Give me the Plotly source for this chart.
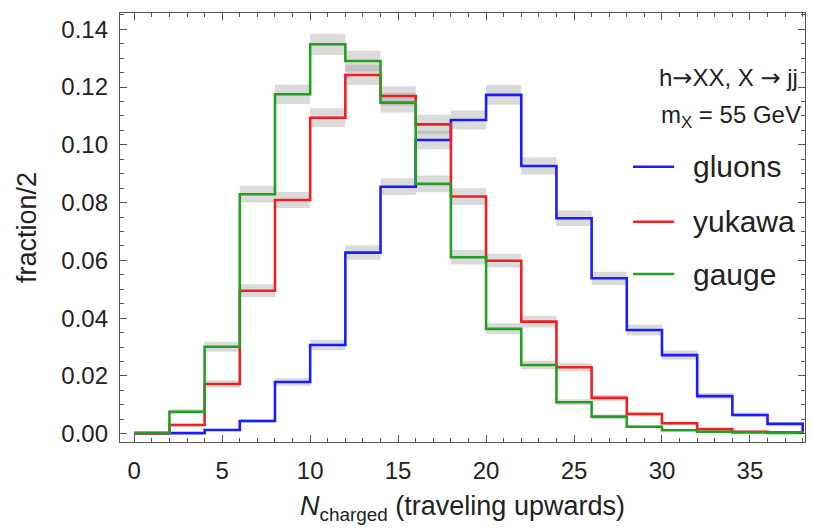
import plotly.graph_objects as go

# bin edges (width 2) for N_charged
bin_edges = [0, 2, 4, 6, 8, 10, 12, 14, 16, 18, 20, 22, 24, 26, 28, 30, 32, 34, 36, 38]

gluons = [0.0001, 0.0002, 0.0013, 0.0044, 0.0179, 0.0307, 0.0627, 0.0855, 0.1017, 0.1086,
          0.1173, 0.0927, 0.0746, 0.0538, 0.0359, 0.0272, 0.0130, 0.0065, 0.0034]
gluons_err = [0.0001, 0.0001, 0.0004, 0.0007, 0.0013, 0.0018, 0.0025, 0.0029, 0.0032, 0.0033,
              0.0034, 0.0030, 0.0027, 0.0023, 0.0019, 0.0016, 0.0011, 0.0008, 0.0006]

yukawa = [0.0002, 0.0030, 0.0172, 0.0495, 0.0809, 0.1094, 0.1242, 0.1169, 0.1071, 0.0821,
          0.0599, 0.0388, 0.0230, 0.0124, 0.0068, 0.0036, 0.0016, 0.0007, 0.0005]
yukawa_err = [0.0001, 0.0005, 0.0013, 0.0022, 0.0028, 0.0033, 0.0035, 0.0034, 0.0033, 0.0029,
              0.0024, 0.0020, 0.0015, 0.0011, 0.0008, 0.0006, 0.0004, 0.0003, 0.0002]

gauge = [0.0003, 0.0076, 0.0301, 0.0829, 0.1175, 0.1348, 0.1290, 0.1146, 0.0865, 0.0611,
         0.0363, 0.0238, 0.0109, 0.0059, 0.0024, 0.0012, 0.0007, 0.0004, 0.0003]
gauge_err = [0.0002, 0.0009, 0.0017, 0.0029, 0.0034, 0.0037, 0.0036, 0.0034, 0.0029, 0.0025,
             0.0019, 0.0015, 0.0010, 0.0008, 0.0005, 0.0003, 0.0003, 0.0002, 0.0002]

series_names = ["gluons", "yukawa", "gauge"]
series_vals = [gluons, yukawa, gauge]
series_errs = [gluons_err, yukawa_err, gauge_err]
series_colors = ["#1c1cff", "#f02020", "#22a022"]

x_ticks = [0, 5, 10, 15, 20, 25, 30, 35]
y_ticks = [0.00, 0.02, 0.04, 0.06, 0.08, 0.10, 0.12, 0.14]

FONT = "Liberation Sans, Arial, sans-serif"
ARROW = '<span style="font-family:DejaVu Sans">→</span>'
fig = go.Figure()

# error bands (gray boxes per bin)
for vals, errs in zip(series_vals, series_errs):
    bx, by = [], []
    for i, (v, e) in enumerate(zip(vals, errs)):
        x0, x1 = bin_edges[i], bin_edges[i + 1]
        bx += [x0, x1, x1, x0, x0, None]
        by += [v - e, v - e, v + e, v + e, v - e, None]
    fig.add_trace(go.Scatter(x=bx, y=by, mode="lines", fill="toself",
                             fillcolor="rgba(150,150,150,0.35)", line=dict(width=0),
                             hoverinfo="skip", showlegend=False))

# step lines
for name, vals, col in zip(series_names, series_vals, series_colors):
    xs = list(bin_edges)
    ys = list(vals) + [0]
    fig.add_trace(go.Scatter(x=xs, y=ys, mode="lines", line_shape="hv",
                             line=dict(color=col, width=2.6), name=name, showlegend=False))

axis_common = dict(showline=True, linecolor="#555", linewidth=1.3, mirror="allticks",
                   ticks="inside", tickcolor="#555", tickwidth=1.1, ticklen=7,
                   showgrid=False, zeroline=False,
                   tickfont=dict(family=FONT, size=24, color="#222"))

fig.update_xaxes(range=[-0.81, 38.13], tickvals=x_ticks, ticktext=[str(v) for v in x_ticks],
                 minor=dict(dtick=1, tick0=0, ticks="inside", ticklen=4, tickcolor="#555", tickwidth=1),
                 title=dict(text="<i>N</i><sub>charged</sub> (traveling upwards)",
                            font=dict(family=FONT, size=27, color="#222"), standoff=13),
                 ticklabelstandoff=7,
                 **axis_common)
fig.update_yaxes(range=[-0.00287, 0.14564], tickvals=y_ticks,
                 ticktext=["%.2f" % v for v in y_ticks],
                 minor=dict(dtick=0.005, tick0=0, ticks="inside", ticklen=4, tickcolor="#555", tickwidth=1),
                 title=dict(text="fraction/2", font=dict(family=FONT, size=27, color="#222"), standoff=16),
                 ticklabelstandoff=6,
                 **axis_common)

# manual legend
legend_y = [0.6417, 0.5135, 0.3916]
for name, col, ly in zip(series_names, series_colors, legend_y):
    fig.add_shape(type="line", xref="paper", yref="paper", x0=0.749, x1=0.809, y0=ly, y1=ly,
                  line=dict(color=col, width=2.6))
    fig.add_annotation(xref="paper", yref="paper", x=0.8336, y=ly, text=name, showarrow=False,
                       xanchor="left", yanchor="middle",
                       font=dict(family=FONT, size=30, color="#222"))

fig.add_annotation(xref="paper", yref="paper", x=0.993, y=0.8485,
                   text="h" + ARROW + "XX, X " + ARROW + " jj",
                   showarrow=False, xanchor="right", yanchor="middle",
                   font=dict(family=FONT, size=24, color="#222"))
fig.add_annotation(xref="paper", yref="paper", x=0.997, y=0.758, text="m<sub>X</sub> = 55 GeV",
                   showarrow=False, xanchor="right", yanchor="middle",
                   font=dict(family=FONT, size=24, color="#222"))

fig.update_layout(width=813, height=528, margin=dict(l=120, r=8, t=13, b=86),
                  plot_bgcolor="white", paper_bgcolor="white", showlegend=False,
                  font=dict(family=FONT))

fig.write_html("out.html")
